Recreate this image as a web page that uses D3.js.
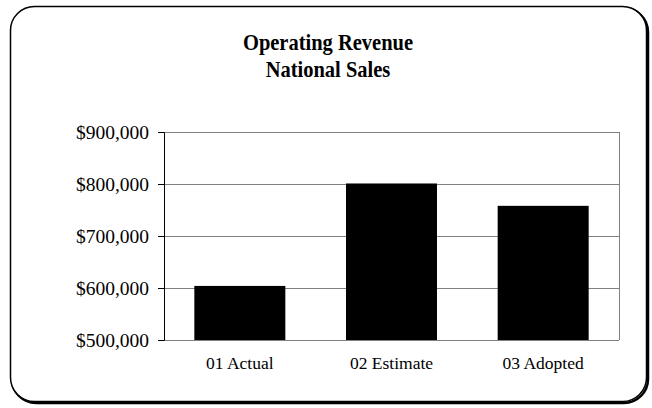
<!DOCTYPE html>
<html>
<head>
<meta charset="utf-8">
<script src="https://cdn.jsdelivr.net/npm/d3@7"></script>
<style>
  body { margin: 0; background: #fff; }
  svg { display: block; font-family: "Liberation Serif", "Times New Roman", serif; }
</style>
</head>
<body>
<div class="canvas"></div>
<script>
const categories = ["01 Actual", "02 Estimate", "03 Adopted"];
const revenue = [604000, 801000, 758000];
const yTicks = [500000, 600000, 700000, 800000, 900000];
const titleLines = ["Operating Revenue", "National Sales"];

const width = 652;
const height = 408;
const margin = { top: 132, right: 33, bottom: 68, left: 164 };

const svg = d3.select(".canvas").append("svg")
  .attr("width", width)
  .attr("height", height);

// frame with shadow on right/bottom
svg.append("rect")
  .attr("x", 12).attr("y", 8)
  .attr("width", 636).attr("height", 395)
  .attr("rx", 24)
  .attr("fill", "none")
  .attr("stroke", "#000")
  .attr("stroke-width", 2.5);
svg.append("rect")
  .attr("x", 10.5).attr("y", 6.5)
  .attr("width", 636).attr("height", 395)
  .attr("rx", 24)
  .attr("fill", "#fff")
  .attr("stroke", "#000")
  .attr("stroke-width", 1.5);

// title, slightly taller than wide like the original
svg.append("g")
  .selectAll("text")
  .data(titleLines)
  .join("text")
    .attr("transform", (d, i) => `translate(328,${50 + i * 27}) scale(1,1.1)`)
    .attr("text-anchor", "middle")
    .attr("font-size", 20.5)
    .attr("font-weight", "bold")
    .text(d => d);

const x = d3.scaleBand()
  .domain(categories)
  .range([margin.left, width - margin.right])
  .paddingInner(0.4)
  .paddingOuter(0.2);

const y = d3.scaleLinear()
  .domain([500000, 900000])
  .range([height - margin.bottom, margin.top]);

// gridlines
svg.append("g")
  .selectAll("line")
  .data(yTicks)
  .join("line")
    .attr("x1", margin.left)
    .attr("x2", width - margin.right)
    .attr("y1", d => y(d) + 0.5)
    .attr("y2", d => y(d) + 0.5)
    .attr("stroke", "#808080");

// plot right border
svg.append("line")
  .attr("x1", width - margin.right + 0.5)
  .attr("x2", width - margin.right + 0.5)
  .attr("y1", margin.top)
  .attr("y2", height - margin.bottom)
  .attr("stroke", "#808080");

svg.append("g")
  .selectAll("rect")
  .data(revenue)
  .join("rect")
    .attr("x", (d, i) => x(categories[i]))
    .attr("y", d => y(d))
    .attr("width", x.bandwidth())
    .attr("height", d => y(500000) - y(d))
    .attr("fill", "#000");

const yAxis = svg.append("g")
  .attr("transform", `translate(${margin.left},0)`)
  .call(d3.axisLeft(y)
    .tickValues(yTicks)
    .tickSize(6)
    .tickPadding(9)
    .tickFormat(d => "$" + d3.format(",")(d)));
yAxis.select(".domain").attr("stroke", "#000");
yAxis.selectAll("text").attr("font-size", 19.5).attr("font-family", "Liberation Serif").attr("fill", "#000");

const xAxis = svg.append("g")
  .attr("transform", `translate(0,${height - margin.bottom})`)
  .call(d3.axisBottom(x).tickSize(0).tickPadding(16.5));
xAxis.select(".domain").remove();
xAxis.selectAll("text").attr("font-size", 17.5).attr("font-family", "Liberation Serif").attr("fill", "#000");
</script>
</body>
</html>
